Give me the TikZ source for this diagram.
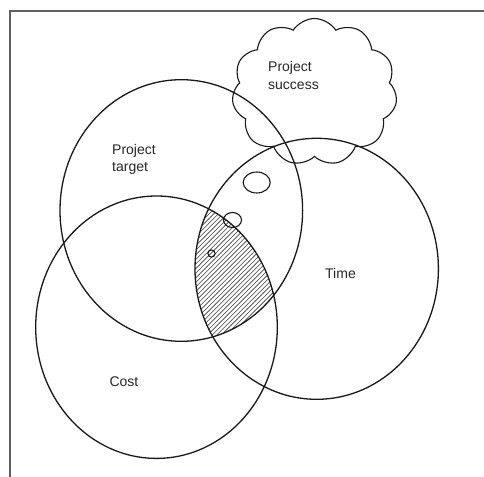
\documentclass[tikz,border=0pt]{standalone}
\usepackage{fontspec}
\setmainfont{Liberation Sans}
\usetikzlibrary{shapes.symbols}
\begin{document}
\begin{tikzpicture}[x=1pt,y=-1pt,
  venn/.style={draw=black!90, line width=1.3pt},
  blob/.style={draw=black!90, line width=1.1pt},
  frameline/.style={draw=black!62, line width=2.4pt},
  hatchline/.style={draw=black!75, line width=0.6pt},
  lbl/.style={font=\fontsize{14}{17.5}\selectfont, inner sep=0pt, anchor=north west, align=left, text=black!85}]
\useasboundingbox (0,0) rectangle (484,476);
\fill[white] (0,0) rectangle (484,476);
% frame
\coordinate (fbl) at (10,530);
\coordinate (ftl) at (10,11);
\coordinate (ftr) at (530,11);
\draw[frameline] (fbl) -- (ftl) -- (ftr);
% hatched intersection
\begin{scope}
  \clip (181.3,210.5) ellipse [x radius=121.3pt, y radius=130.8pt];
  \clip (156.5,327.2) ellipse [x radius=120.8pt, y radius=131.2pt];
  \clip (316.7,268.8) ellipse [x radius=121.7pt, y radius=130.5pt];
  \foreach \k in {0,...,50} \draw[hatchline] ({35+4.6*\k},365) -- ++(170,-170);
\end{scope}
% the three sets
\draw[venn] (181.3,210.5) ellipse [x radius=121.3pt, y radius=130.8pt];
\draw[venn] (156.5,327.2) ellipse [x radius=120.8pt, y radius=131.2pt];
\draw[venn] (316.7,268.8) ellipse [x radius=121.7pt, y radius=130.5pt];
% small ellipses
\draw[blob] (256.7,182.5) ellipse [x radius=13.5pt, y radius=10.5pt];
\draw[blob] (232.5,220) ellipse [x radius=9pt, y radius=7.5pt];
\draw[blob] (211.5,253.5) circle [radius=3.6pt];
% cloud
\node[cloud, draw=black!90, line width=1.1pt, cloud puffs=11, cloud puff arc=115,
      cloud ignores aspect, minimum width=165pt, minimum height=147pt, inner sep=0pt]
      (success) at (314.5,92) {};
% labels
\node[lbl] (tsuccess) at (268,61.5) {Project\\success};
\node[lbl] (ttarget) at (112,144) {Project\\target};
\node[lbl] (ttime) at (325,268.3) {Time};
\node[lbl] (tcost) at (109.3,376.5) {Cost};
\end{tikzpicture}
\end{document}
